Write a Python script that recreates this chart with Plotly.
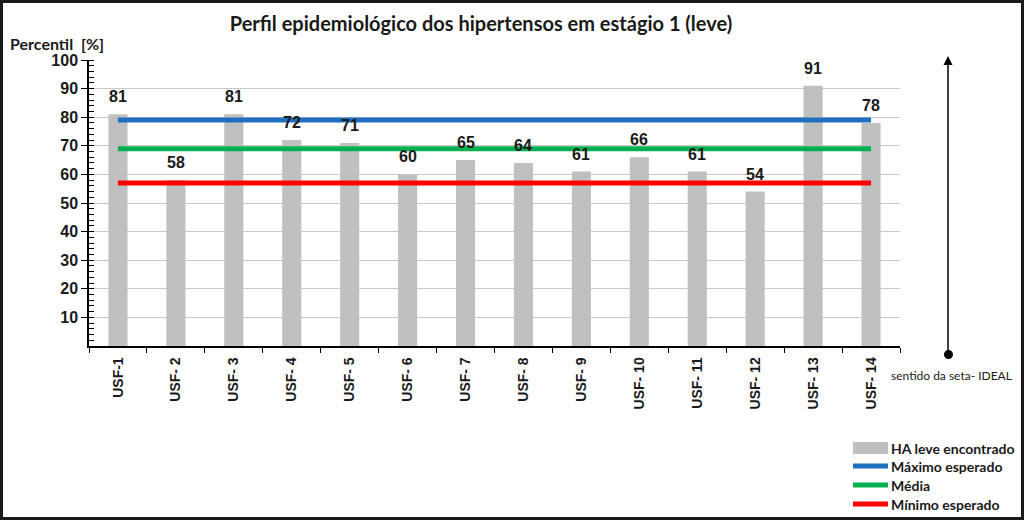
import plotly.graph_objects as go

categories = ["USF-1", "USF- 2", "USF- 3", "USF- 4", "USF- 5", "USF- 6", "USF- 7",
              "USF- 8", "USF- 9", "USF- 10", "USF- 11", "USF- 12", "USF- 13", "USF- 14"]
ha_leve = [81, 58, 81, 72, 71, 60, 65, 64, 61, 66, 61, 54, 91, 78]
maximo = [79] * 14
media = [69] * 14
minimo = [57] * 14
y_ticks = [10, 20, 30, 40, 50, 60, 70, 80, 90, 100]

series = [("HA leve encontrado", "#c0c0c0"),
          ("Máximo esperado", "#1f6fc1"),
          ("Média", "#00b050"),
          ("Mínimo esperado", "#ff0000")]

W, H = 1024, 520
L, R, T, B = 89, 900, 60, 346  # plot area in pixels
TXT = "#1a1a1a"


def px(x):
    return (x - L) / (R - L)


def py(y):
    return (B - y) / (B - T)


fig = go.Figure()
fig.add_trace(go.Bar(
    x=categories, y=ha_leve, name=series[0][0],
    marker=dict(color=series[0][1], line=dict(width=0)), width=0.33,
    showlegend=False,
))
for (name, col), vals in zip(series[1:], [maximo, media, minimo]):
    fig.add_trace(go.Scatter(x=categories, y=vals, name=name, mode="lines",
                             line=dict(color=col, width=5), showlegend=False))

# data labels above the bars
for c, v in zip(categories, ha_leve):
    fig.add_annotation(x=c, y=v, text=str(v), showarrow=False, yanchor="bottom",
                       yshift=7, font=dict(family="Liberation Sans", size=16, color=TXT,
                                           weight="bold"))

fig.update_layout(
    width=W, height=H,
    margin=dict(l=L, r=W - R, t=T, b=H - B, autoexpand=False),
    paper_bgcolor="white", plot_bgcolor="white",
    title=dict(text="<b>Perfil epidemiológico dos hipertensos em estágio 1 (leve)</b>",
               x=481 / W, xanchor="center", y=1 - 24 / H, yanchor="middle",
               font=dict(family="Lato", size=20, color=TXT)),
    showlegend=False,
    xaxis=dict(type="category", showline=True, linecolor="black", linewidth=1.5,
               ticks="outside", ticklen=5, tickcolor="black", tickson="boundaries",
               tickangle=-90, automargin=False, ticklabelstandoff=4,
               tickfont=dict(family="Liberation Sans", size=14, color=TXT, weight="bold"),
               showgrid=False, range=[-0.5, 13.5]),
    yaxis=dict(range=[0, 100], tickvals=y_ticks, showline=True, linecolor="black",
               linewidth=1.5, ticks="outside", ticklen=6, tickcolor="black",
               automargin=False,
               tickfont=dict(family="Liberation Sans", size=16, color=TXT, weight="bold"),
               showgrid=True, gridcolor="#c8c8c8", gridwidth=1, zeroline=False,
               minor=dict(dtick=2, ticks="inside", ticklen=5, tickcolor="black",
                          showgrid=False)),
)

# y-axis caption
fig.add_annotation(text="<b>Percentil  [%]</b>", xref="paper", yref="paper",
                   x=px(8), y=py(44), xanchor="left", yanchor="middle", showarrow=False,
                   font=dict(family="Lato", size=16, color=TXT))

# arrow of the ideal direction
fig.add_annotation(xref="paper", yref="paper", x=px(948), y=py(56), ax=0, ay=298,
                   axref="pixel", ayref="pixel", text="", showarrow=True,
                   arrowhead=2, arrowsize=1.2, arrowwidth=1.5, arrowcolor="black")
fig.add_shape(type="circle", xref="paper", yref="paper",
              x0=px(944), x1=px(953), y0=py(350), y1=py(359),
              fillcolor="black", line=dict(color="black", width=0))
fig.add_annotation(text="sentido da seta- IDEAL", xref="paper", yref="paper",
                   x=px(889), y=py(375), xanchor="left", yanchor="middle", showarrow=False,
                   font=dict(family="Lato", size=12, color=TXT))

# legend (drawn by hand so it does not move the plot area)
leg_y = [448, 466, 485, 504]
for i, ((name, col), yy) in enumerate(zip(series, leg_y)):
    if i == 0:
        fig.add_shape(type="rect", xref="paper", yref="paper",
                      x0=px(853), x1=px(888), y0=py(yy - 6), y1=py(yy + 6),
                      fillcolor=col, line=dict(width=0))
    else:
        fig.add_shape(type="line", xref="paper", yref="paper",
                      x0=px(853), x1=px(888), y0=py(yy), y1=py(yy),
                      line=dict(color=col, width=5))
    fig.add_annotation(text="<b>" + name + "</b>", xref="paper", yref="paper",
                       x=px(889), y=py(yy), xanchor="left", yanchor="middle",
                       showarrow=False, font=dict(family="Lato", size=14, color=TXT))

# outer frame
fig.add_shape(type="rect", xref="paper", yref="paper",
              x0=px(1.5), x1=px(W - 1.5), y0=py(1.5), y1=py(H - 1.5),
              line=dict(color=TXT, width=3), fillcolor="rgba(0,0,0,0)", layer="above")

fig.write_html("out.html", config={"displayModeBar": False},
               post_script="document.body.style.margin='0';document.body.style.overflow='hidden';")
